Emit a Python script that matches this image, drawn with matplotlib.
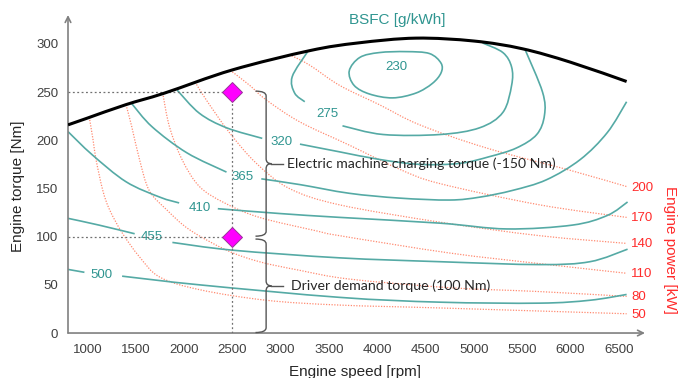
import numpy as np
import matplotlib.pyplot as plt
from matplotlib.path import Path
from matplotlib.patches import PathPatch

nan = np.nan

# Volllast (max torque)
full_rpm = [800, 1000, 1400, 1800, 2500, 3300, 3800, 4400, 5000, 5500, 6000, 6580]
full_nm = [216, 223, 237, 249, 273, 293, 301, 306, 303, 295, 281, 261]

# BSFC iso lines [g/kWh], nan = gap where the label sits
b230_rpm = [3710, 3820, 4020, 4300, 4540, 4660, 4660, 4570, 4400, 4160, 3920, 3760]
b230_nm = [272, 286, 291, 292, 290, 280, 270, 259, 249, 244, 248, 257]
b275_rpm = [3280, 3120, 3145, 3250, nan, 3640, 4060, 4650, 5060, 5300, 5390, 5390, 5300, 5090]
b275_nm = [292, 266, 249, 240, nan, 215, 206, 206, 213, 229, 257, 276, 291, 301]
b320_rpm = [1930, 2160, 2440, 2810, nan, 3200, 3610, 4030, 4440, 4850, 5160, 5440, 5650, 5730, 5710, 5530]
b320_nm = [252, 228, 213, 202, nan, 196, 188, 180, 175, 176, 183, 192, 206, 226, 250, 294]
b365_rpm = [1460, 1670, 2030, 2440, nan, 2800, 3200, 3710, 4230, 4750, 5060, 5400, 5750, 6100, 6380, 6580]
b365_nm = [238, 214, 187, 167, nan, 160, 154, 145, 140, 138, 141, 148, 159, 180, 208, 240]
b410_rpm = [800, 1050, 1400, 1750, 1950, nan, 2350, 2990, 3610, 4650, 5340, 6020, 6380, 6590]
b410_nm = [209, 185, 157, 141, 135, nan, 129, 124, 120, 114, 108, 112, 122, 136]
b455_rpm = [800, 1120, 1490, nan, 1880, 2500, 3610, 4650, 5680, 6200, 6590]
b455_nm = [119, 112, 103, nan, 94, 86, 78, 74, 71, 74, 87]
b500_rpm = [800, 970, nan, 1360, 2160, 3610, 4650, 5680, 6200, 6580]
b500_nm = [66, 63, nan, 59, 50, 37, 32, 31, 34, 40]

bsfc_text = ['230', '275', '320', '365', '410', '455', '500']
bsfc_text_rpm = [4200, 3480, 3010, 2610, 2160, 1670, 1150]
bsfc_text_nm = [276, 227, 198, 162, 130, 100, 60]

# constant power lines [kW]
p200_rpm = [3090, 3300, 3610, 4020, 4440, 5130, 5990, 6580]
p200_nm = [289, 278, 257, 237, 216, 192, 169, 152]
p170_rpm = [2500, 2680, 2850, 3200, 3710, 4230, 4650, 5680, 6580]
p170_nm = [271, 257, 242, 219, 195, 170, 155, 133, 120]
p140_rpm = [2130, 2230, 2470, 2750, 3090, 3610, 4650, 5680, 6580]
p140_nm = [258, 242, 208, 176, 150, 133, 115, 101, 93]
p110_rpm = [1780, 1850, 1980, 2160, 2420, 2780, 3370, 3610, 4750, 5680, 6580]
p110_nm = [249, 214, 180, 152, 135, 120, 106, 101, 83, 72, 62]
p80_rpm = [1400, 1460, 1540, 1640, 1820, 2060, 2440, 2780, 3200, 3710, 4750, 5680, 6580]
p80_nm = [237, 214, 180, 148, 128, 107, 86, 74, 65, 56, 47, 43, 38]
p50_rpm = [1020, 1060, 1090, 1160, 1230, 1360, 1540, 1750, 2160, 2850, 3610, 4650, 6580]
p50_nm = [224, 200, 180, 148, 128, 104, 79, 58, 45, 34, 29, 26, 20]
power_text = ['200', '170', '140', '110', '80', '50']

# operating points
op_rpm = 2500
op_nm = [250, 100]

x_ticks = list(range(1000, 7000, 500))
y_ticks = list(range(0, 350, 50))

teal = '#55aaa5'
teal_txt = '#2f9590'
red_line = '#ff8a70'
red_txt = '#ff2b2b'
grey = '#808080'

plt.rcParams['font.family'] = ['Liberation Sans', 'DejaVu Sans']

fig = plt.figure(figsize=(6.8, 3.78), dpi=100)
ax = fig.add_axes([0.1, 0.119, 0.8485, 0.8413])
ax.set_xlim(800, 6770)
ax.set_ylim(0, 330)


def curve(xs, ys, closed=False, **kw):
    xs = np.asarray(xs, float)
    ys = np.asarray(ys, float)
    breaks = np.where(np.isnan(xs))[0]
    for seg in np.split(np.arange(len(xs)), breaks):
        seg = seg[~np.isnan(xs[seg])]
        p = np.column_stack([xs[seg], ys[seg]])
        n = len(p)
        if closed:
            p = np.vstack([p[-1], p, p[0], p[1]])
        else:
            p = np.vstack([p[0], p, p[-1]])
        verts = [p[1]]
        codes = [Path.MOVETO]
        last = n + 1 if closed else n
        for i in range(1, last):
            c1 = p[i] + (p[i + 1] - p[i - 1]) / 6
            c2 = p[i + 1] - (p[i + 2] - p[i]) / 6
            verts += [c1, c2, p[i + 1]]
            codes += [Path.CURVE4] * 3
        ax.add_patch(PathPatch(Path(verts, codes), fill=False, **kw))


# power lines
power_lines = [(p200_rpm, p200_nm), (p170_rpm, p170_nm), (p140_rpm, p140_nm),
               (p110_rpm, p110_nm), (p80_rpm, p80_nm), (p50_rpm, p50_nm)]
for (r, t), lab in zip(power_lines, power_text):
    curve(r, t, ec=red_line, lw=0.9, ls=(0, (1, 1.2)), zorder=2)
    ax.text(6630, t[-1] - 1, lab, color=red_txt, fontsize=9.5, ha='left', va='center',
            clip_on=False)

# BSFC lines
curve(b230_rpm, b230_nm, closed=True, ec=teal, lw=1.2, zorder=3)
bsfc_lines = [(b275_rpm, b275_nm), (b320_rpm, b320_nm), (b365_rpm, b365_nm),
              (b410_rpm, b410_nm), (b455_rpm, b455_nm), (b500_rpm, b500_nm)]
for r, t in bsfc_lines:
    curve(r, t, ec=teal, lw=1.2, zorder=3)
for lab, r, t in zip(bsfc_text, bsfc_text_rpm, bsfc_text_nm):
    ax.text(r, t, lab, color=teal_txt, fontsize=9.5, ha='center', va='center', zorder=4)

# full load curve
curve(full_rpm, full_nm, ec='black', lw=2.2, zorder=5)

# dotted guides + operating points
dot = dict(color='#707070', lw=0.9, ls=(0, (1.5, 2)), zorder=4)
ax.plot([800, op_rpm], [op_nm[0], op_nm[0]], **dot)
ax.plot([800, op_rpm], [op_nm[1], op_nm[1]], **dot)
ax.plot([op_rpm, op_rpm], [0, op_nm[0]], **dot)
ax.plot([op_rpm] * 2, op_nm, ls='none', marker='D', ms=10, mfc='#ff00ff',
        mec='#993399', mew=0.7, zorder=6)


def brace(x, top, bottom, w=110, r=5):
    mid = (top + bottom) / 2
    verts = [(x - w, top), (x, top), (x, top - r),
             (x, mid + r), (x, mid), (x + w * 0.5, mid),
             (x, mid), (x, mid - r),
             (x, bottom + r), (x, bottom), (x - w, bottom)]
    codes = [Path.MOVETO, Path.CURVE3, Path.CURVE3,
             Path.LINETO, Path.CURVE3, Path.CURVE3,
             Path.CURVE3, Path.CURVE3,
             Path.LINETO, Path.CURVE3, Path.CURVE3]
    ax.add_patch(PathPatch(Path(verts, codes), fill=False, ec='#555555', lw=1.0,
                           zorder=4, clip_on=False))
    ax.plot([x + w * 0.5, x + w * 1.6], [mid, mid], color='#555555', lw=1.0)
    return mid


m1 = brace(2850, 251, 100.5)
m2 = brace(2850, 97.5, 0.5)
ax.text(3070, m1, 'Electric machine charging torque (-150 Nm)', family=['Lato', 'DejaVu Sans'],
        fontsize=10.1, color='#262626', ha='left', va='center', zorder=6)
ax.text(3110, m2, 'Driver demand torque (100 Nm)', family=['Lato', 'DejaVu Sans'],
        fontsize=10.2, color='#262626', ha='left', va='center', zorder=6)

# axes with arrows
for s in ax.spines.values():
    s.set_visible(False)
arr = dict(arrowstyle='->', color=grey, lw=1.2, shrinkA=0, shrinkB=0)
ax.annotate('', xy=(1, 0), xytext=(0, 0), xycoords='axes fraction', arrowprops=arr)
ax.annotate('', xy=(0, 1), xytext=(0, 0), xycoords='axes fraction', arrowprops=arr)

ax.set_xticks(x_ticks)
ax.set_yticks(y_ticks)
ax.tick_params(length=0, labelsize=9.5, labelcolor='#404040')
ax.tick_params(axis='x', pad=8)
ax.tick_params(axis='y', pad=7)

fig.text(18 / 680, 1 - 186 / 378, 'Engine torque [Nm]', fontsize=11, color='#262626',
         ha='center', va='center', rotation=90)
fig.text(355 / 680, 1 - 365 / 378, 'Engine speed [rpm]', fontsize=11, color='#262626',
         ha='center', va='top')
fig.text(670 / 680, 1 - 250 / 378, 'Engine power [kW]', fontsize=11, color=red_txt,
         ha='center', va='center', rotation=270)
fig.text(397 / 680, 1 - 20 / 378, 'BSFC [g/kWh]', fontsize=11, color=teal_txt,
         ha='center', va='center')

fig.savefig('out.png', dpi=100)
